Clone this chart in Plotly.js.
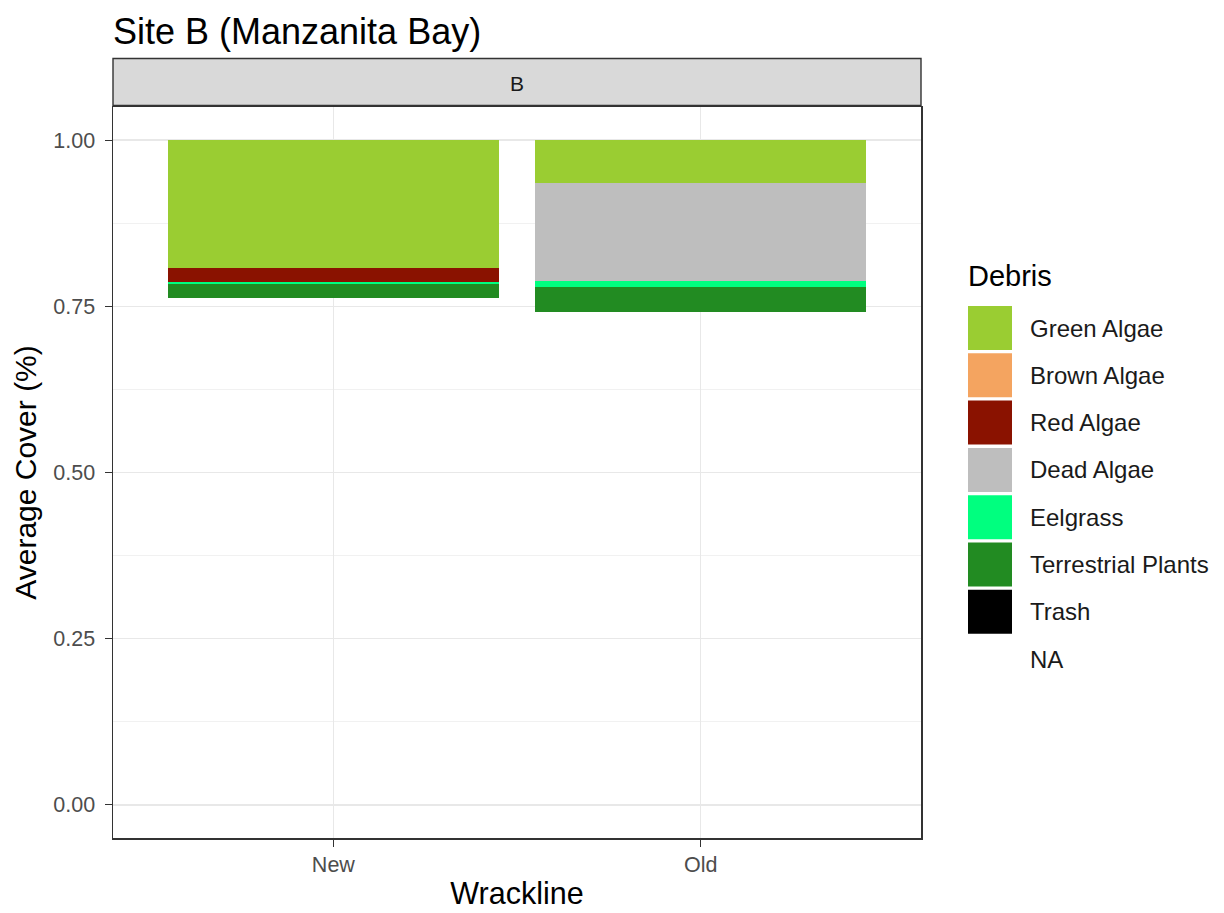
<!DOCTYPE html>
<html>
<head>
<meta charset="utf-8">
<script src="https://cdn.plot.ly/plotly-3.0.1.min.js"></script>
<style>
  html, body { margin: 0; padding: 0; background: #ffffff; }
  #chart { width: 1224px; height: 913px; }
</style>
</head>
<body>
<div id="chart"></div>
<script>
// ---- data ----
const categories = ['New', 'Old'];
const debrisNames = ['Green Algae', 'Brown Algae', 'Red Algae', 'Dead Algae', 'Eelgrass', 'Terrestrial Plants', 'Trash', 'NA'];
const debrisColors = ['#9ACD32', '#F4A460', '#8A1200', '#BEBEBE', '#00FF7F', '#228B22', '#000000', 'rgba(0,0,0,0)'];
const greenAlgae = [0.193, 0.065];
const brownAlgae = [0.000, 0.000];
const redAlgae = [0.021, 0.000];
const deadAlgae = [0.000, 0.147];
const eelgrass = [0.003, 0.0095];
const terrestrialPlants = [0.020, 0.037];
const trash = [0.000, 0.000];
const naCover = [0.763, 0.7415];
const yTickVals = [0, 0.25, 0.5, 0.75, 1.0];
const yTickText = ['0.00', '0.25', '0.50', '0.75', '1.00'];
const seriesValues = [greenAlgae, brownAlgae, redAlgae, deadAlgae, eelgrass, terrestrialPlants, trash, naCover];

// ---- layout geometry ----
const W = 1224, H = 913;
const M = { l: 113, r: 303, t: 107, b: 75 };
const plotW = W - M.l - M.r, plotH = H - M.t - M.b;
const px2x = px => (px - M.l) / plotW;
const px2y = py => (H - M.b - py) / plotH;
const FONT = 'Liberation Sans, Arial, Helvetica, sans-serif';

// ggplot stacks the first factor level on top: add traces bottom-first
const traces = [];
for (let i = debrisNames.length - 1; i >= 0; i--) {
  traces.push({
    type: 'bar',
    name: debrisNames[i],
    x: categories,
    y: seriesValues[i],
    marker: { color: debrisColors[i], line: { width: 0 } },
    showlegend: false,
    hoverinfo: 'name+y'
  });
}

const shapes = [];
const annotations = [];

// facet strip
shapes.push({
  type: 'rect', xref: 'paper', yref: 'paper',
  x0: 0, x1: 1, y0: px2y(105.5), y1: px2y(58.5),
  fillcolor: '#D9D9D9', line: { color: '#333333', width: 1.4 }, layer: 'above'
});
annotations.push({
  xref: 'paper', yref: 'paper', x: 0.5, y: px2y(84), text: 'B', showarrow: false,
  xanchor: 'center', yanchor: 'middle', font: { family: FONT, size: 21, color: '#1A1A1A' }
});

// legend (drawn from the same names / colours arrays)
annotations.push({
  xref: 'paper', yref: 'paper', x: px2x(966), y: px2y(276), text: 'Debris', showarrow: false,
  xanchor: 'left', yanchor: 'middle', font: { family: FONT, size: 29, color: '#000000' }
});
const keyTop0 = 306, keyStep = 47.3, keySize = 44;
debrisNames.forEach((name, i) => {
  const top = keyTop0 + i * keyStep;
  if (name !== 'NA') {
    shapes.push({
      type: 'rect', xref: 'paper', yref: 'paper',
      x0: px2x(968), x1: px2x(968 + keySize), y0: px2y(top + keySize), y1: px2y(top),
      fillcolor: debrisColors[i], line: { width: 0 }
    });
  }
  annotations.push({
    xref: 'paper', yref: 'paper', x: px2x(1028), y: px2y(top + keySize / 2), text: name,
    showarrow: false, xanchor: 'left', yanchor: 'middle',
    font: { family: FONT, size: 24, color: '#1A1A1A' }
  });
});

const layout = {
  width: W, height: H,
  margin: M,
  paper_bgcolor: '#ffffff', plot_bgcolor: '#ffffff',
  barmode: 'stack',
  bargap: 0.1,
  showlegend: false,
  font: { family: FONT, color: '#1A1A1A' },
  title: {
    text: 'Site B (Manzanita Bay)',
    x: px2x(113), xref: 'paper', xanchor: 'left',
    y: 1 - 31 / H, yref: 'container', yanchor: 'middle',
    font: { family: FONT, size: 36, color: '#000000' }
  },
  xaxis: {
    type: 'category',
    range: [-0.6, 1.6],
    showgrid: true, gridcolor: '#E8E8E8', gridwidth: 1.5,
    showline: true, linecolor: '#333333', linewidth: 1.5, mirror: true,
    ticks: 'outside', ticklen: 7, tickcolor: '#333333', tickwidth: 1.3,
    tickfont: { family: FONT, size: 21.5, color: '#4D4D4D' },
    zeroline: false,
    fixedrange: true,
    title: { text: 'Wrackline', standoff: 6, font: { family: FONT, size: 30.5, color: '#000000' } }
  },
  yaxis: {
    range: [-0.05, 1.05],
    tickvals: yTickVals, ticktext: yTickText,
    showgrid: true, gridcolor: '#E8E8E8', gridwidth: 1.5,
    minor: { tick0: 0.125, dtick: 0.25, showgrid: true, gridcolor: '#EFEFEF', gridwidth: 0.9, ticks: '' },
    showline: true, linecolor: '#333333', linewidth: 1.5, mirror: true,
    ticks: 'outside', ticklen: 7, tickcolor: '#333333', tickwidth: 1.3,
    ticklabelstandoff: 5,
    tickfont: { family: FONT, size: 21.5, color: '#4D4D4D' },
    zeroline: false,
    fixedrange: true,
    title: { text: 'Average Cover (%)', standoff: 8, font: { family: FONT, size: 30, color: '#000000' } }
  },
  shapes: shapes,
  annotations: annotations
};

Plotly.newPlot('chart', traces, layout, { displayModeBar: false, staticPlot: true });
</script>
</body>
</html>
